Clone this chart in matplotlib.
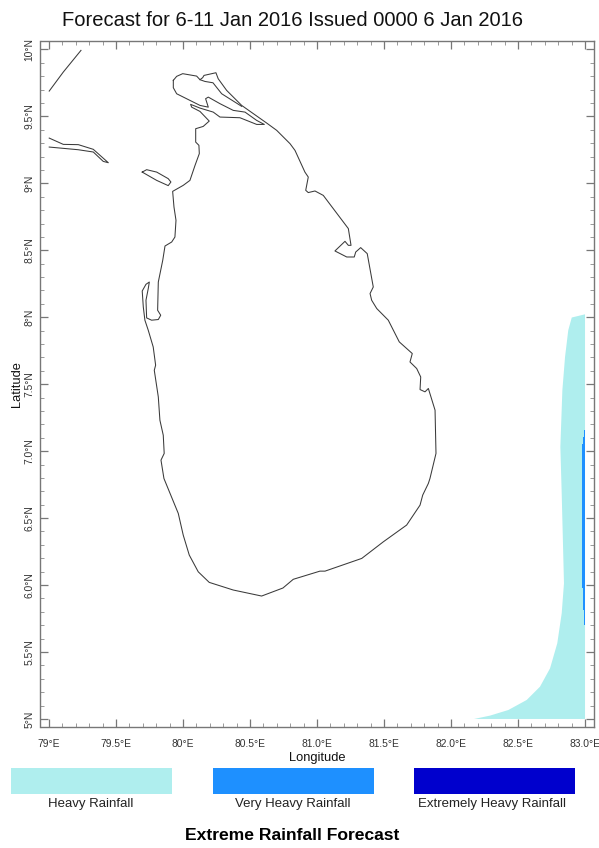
import matplotlib
matplotlib.use("Agg")
import matplotlib.pyplot as plt
from matplotlib.patches import Rectangle
import numpy as np

plt.rcParams["font.family"] = ["Liberation Sans", "DejaVu Sans"]

# coastline of the island, lon / lat
coast_lon = [79.928, 79.953, 79.998, 80.102, 80.127, 80.147, 80.157, 80.246, 80.263, 80.326, 80.438, 80.625,
             80.699, 80.799, 80.836, 80.910, 80.935, 80.916, 80.935, 80.985, 81.047, 81.234, 81.254, 81.234,
             81.209, 81.134, 81.222, 81.278, 81.289, 81.326, 81.375, 81.420, 81.396, 81.408, 81.446, 81.532,
             81.614, 81.711, 81.694, 81.744, 81.774, 81.769, 81.806, 81.831, 81.881, 81.888, 81.843, 81.831,
             81.789, 81.769, 81.669, 81.495, 81.334, 81.060, 81.022, 80.823, 80.746, 80.587, 80.375, 80.196,
             80.114, 80.047, 80.002, 79.965, 79.858, 79.836, 79.860, 79.853, 79.828, 79.816, 79.786, 79.796,
             79.778, 79.741, 79.716, 79.704, 79.696, 79.724, 79.749, 79.741, 79.724, 79.729, 79.766, 79.816,
             79.834, 79.811, 79.816, 79.849, 79.866, 79.916, 79.940, 79.948, 79.933, 79.923, 80.002, 80.052,
             80.090, 80.122, 80.119, 80.095, 80.095, 80.151, 80.196, 80.127, 80.065, 80.057, 80.127, 80.226,
             80.276, 80.425, 80.550, 80.607, 80.550, 80.463, 80.375, 80.276, 80.189, 80.169, 80.189, 80.127,
             79.953, 79.928, 79.928]
coast_lat = [9.769, 9.799, 9.819, 9.801, 9.774, 9.789, 9.806, 9.826, 9.781, 9.694, 9.582, 9.450,
             9.396, 9.296, 9.246, 9.084, 9.047, 8.948, 8.931, 8.943, 8.910, 8.662, 8.537, 8.537,
             8.567, 8.495, 8.450, 8.450, 8.487, 8.520, 8.475, 8.226, 8.177, 8.127, 8.065, 7.978,
             7.816, 7.729, 7.666, 7.617, 7.554, 7.460, 7.443, 7.468, 7.306, 6.983, 6.796, 6.759,
             6.672, 6.597, 6.448, 6.323, 6.199, 6.104, 6.104, 6.043, 5.978, 5.918, 5.963, 6.020,
             6.099, 6.224, 6.373, 6.535, 6.796, 6.933, 6.983, 7.119, 7.231, 7.405, 7.604, 7.642,
             7.778, 7.903, 7.978, 8.077, 8.196, 8.246, 8.263, 8.214, 8.127, 7.995, 7.978, 7.983,
             8.015, 8.052, 8.263, 8.425, 8.532, 8.562, 8.599, 8.724, 8.823, 8.940, 8.985, 9.022,
             9.134, 9.222, 9.284, 9.308, 9.408, 9.425, 9.465, 9.537, 9.569, 9.590, 9.562, 9.532,
             9.495, 9.490, 9.440, 9.440, 9.470, 9.532, 9.545, 9.595, 9.644, 9.632, 9.569, 9.582,
             9.669, 9.714, 9.769]

# lagoon strip on the Jaffna side
lagoon_lon = [80.127, 80.164, 80.224, 80.289, 80.438]
lagoon_lat = [9.774, 9.761, 9.751, 9.669, 9.575]

# small island off Mannar
island_lon = [79.696, 79.729, 79.804, 79.890, 79.910, 79.890, 79.804, 79.696]
island_lat = [9.084, 9.102, 9.084, 9.035, 9.010, 8.983, 9.022, 9.084]

# bits of the Indian coast
india1_lon = [79.002, 79.107, 79.239]
india1_lat = [9.689, 9.831, 9.993]
india2_lon = [79.002, 79.107, 79.219, 79.331, 79.443, 79.405, 79.331, 79.219, 79.002]
india2_lat = [9.338, 9.291, 9.289, 9.254, 9.154, 9.164, 9.234, 9.251, 9.271]

# rainfall areas
heavy_lon = [83.0, 82.901, 82.875, 82.851, 82.831, 82.816, 82.826, 82.843, 82.826, 82.793, 82.739,
             82.664, 82.565, 82.428, 82.291, 82.172, 83.0]
heavy_lat = [8.022, 7.998, 7.903, 7.704, 7.455, 7.032, 6.684, 6.013, 5.789, 5.565, 5.378,
             5.241, 5.142, 5.067, 5.025, 5.0, 5.0]
vheavy_lon = [83.0, 82.995, 82.995, 82.987, 82.987, 82.980, 82.980, 82.987, 82.987, 82.995, 82.995, 83.0]
vheavy_lat = [7.157, 7.157, 7.107, 7.107, 7.052, 7.052, 5.975, 5.975, 5.813, 5.813, 5.701, 5.701]

x_ticks = [79, 79.5, 80, 80.5, 81, 81.5, 82, 82.5, 83]
x_labels = ["79°E", "79.5°E", "80°E", "80.5°E", "81.0°E", "81.5°E", "82.0°E", "82.5°E", "83.0°E"]
y_ticks = [5, 5.5, 6, 6.5, 7, 7.5, 8, 8.5, 9, 9.5, 10]
y_labels = ["5°N", "5.5°N", "6.0°N", "6.5°N", "7.0°N", "7.5°N", "8°N", "8.5°N", "9°N", "9.5°N", "10°N"]

categories = ["Heavy Rainfall", "Very Heavy Rainfall", "Extremely Heavy Rainfall"]
cat_colors = ["#afeeee", "#1e90ff", "#0000cd"]

W, H = 599, 848
fig = plt.figure(figsize=(W / 100, H / 100), dpi=100, facecolor="white")
ax = fig.add_axes([40.5 / W, 1 - 727 / H, 553.5 / W, 686 / H])

ax.fill(heavy_lon, heavy_lat, color=cat_colors[0], lw=0)
ax.fill(vheavy_lon, vheavy_lat, color=cat_colors[1], lw=0)

line_kw = dict(color="#3a3a3a", lw=0.75, solid_joinstyle="round")
ax.plot(coast_lon, coast_lat, **line_kw)
ax.plot(lagoon_lon, lagoon_lat, **line_kw)
ax.plot(island_lon, island_lat, **line_kw)
ax.plot(india1_lon, india1_lat, **line_kw)
ax.plot(india2_lon, india2_lat, **line_kw)

ax.set_xlim(78.937, 83.067)
ax.set_ylim(4.940, 10.063)

ax.set_xticks(x_ticks)
ax.set_xticklabels(x_labels, fontsize=7.4, color="#333333")
ax.set_yticks(y_ticks)
ax.set_yticklabels(y_labels, fontsize=7.4, color="#333333", rotation=90, va="center")
ax.set_xticks(np.arange(79, 83.05, 0.1), minor=True)
ax.set_yticks(np.arange(5, 10.05, 0.1), minor=True)
ax.tick_params(which="major", direction="in", length=5.8, width=0.9, color="#777777",
               top=True, right=True)
ax.tick_params(which="minor", direction="in", length=2.9, width=0.7, color="#999999",
               top=True, right=True)
ax.tick_params(axis="x", which="major", pad=8.8)
ax.tick_params(axis="y", which="major", pad=4.5)
for s in ax.spines.values():
    s.set_color("#777777")
    s.set_linewidth(1.0)

fig.text(293 / W, 1 - 20.5 / H, "Forecast for 6-11 Jan 2016 Issued 0000 6 Jan 2016",
         ha="center", va="center", fontsize=14.5, color="#111111")
fig.text(317 / W, 1 - 757.5 / H, "Longitude", ha="center", va="center", fontsize=9.3, color="#111111")
fig.text(17 / W, 1 - 384 / H, "Latitude", ha="center", va="center", rotation=90, fontsize=9.3, color="#111111")

# colour key under the map
swatch_left = [11, 213, 414]
label_x = [91, 293, 492]
for left, lx, name, col in zip(swatch_left, label_x, categories, cat_colors):
    fig.add_artist(Rectangle((left / W, 1 - 794 / H), 161 / W, 26 / H, transform=fig.transFigure,
                             facecolor=col, edgecolor="none"))
    fig.text(lx / W, 1 - 804.5 / H, name, ha="center", va="center", fontsize=9.5, color="#222222")

fig.text(292 / W, 1 - 835.5 / H, "Extreme Rainfall Forecast", ha="center", va="center",
         fontsize=12.6, fontweight="bold", color="black")

fig.savefig("out.png", dpi=100)
